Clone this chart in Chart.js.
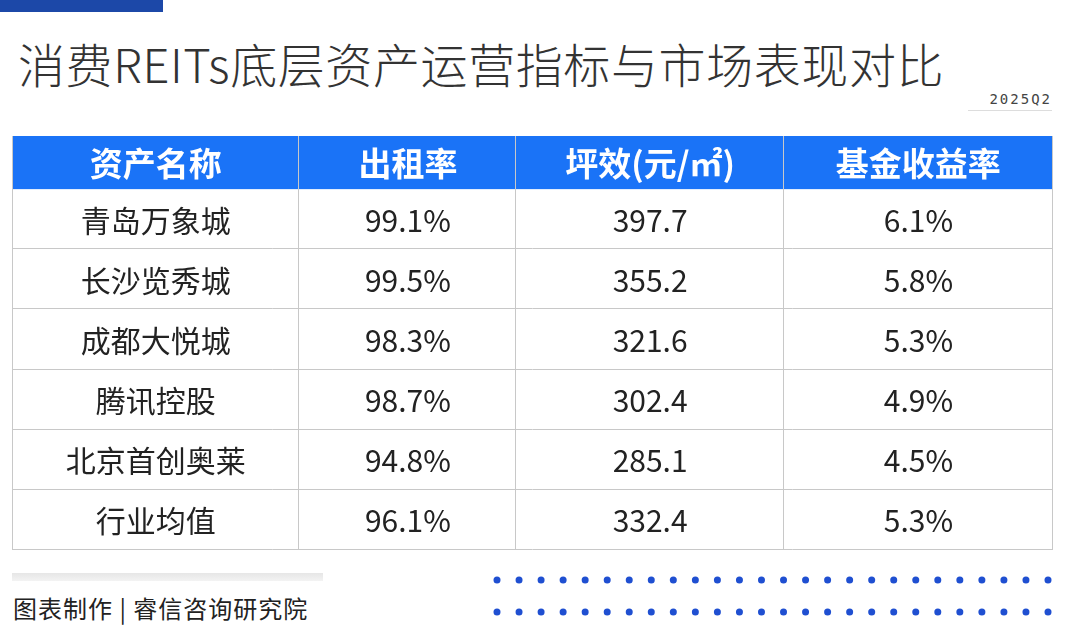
<!DOCTYPE html>
<html><head><meta charset="utf-8">
<script src="https://cdn.jsdelivr.net/npm/chart.js@4/dist/chart.umd.min.js"></script>
<style>
body{margin:0;width:1068px;height:631px;background:#fff;position:relative;overflow:hidden;font-family:"Noto Sans CJK SC","Noto Sans",sans-serif}
#topbar{position:absolute;left:0;top:0;width:163px;height:12px;background:#1c48a8}
#title{position:absolute;left:18px;top:28px;font-size:47px;color:#333;font-weight:300;letter-spacing:0.6px;white-space:nowrap}
#q{position:absolute;left:968px;top:91px;width:84px;text-align:right;font-size:14px;color:#444;letter-spacing:2px;border-bottom:1px solid #ddd;padding-bottom:3px;font-family:"DejaVu Sans Mono",monospace}
#wrap{position:absolute;left:12px;top:136px;width:1041px;height:414px}
#gray{position:absolute;left:12px;top:573px;width:311px;height:8px;background:linear-gradient(#e6e6e6,#f3f3f3)}
#src{position:absolute;left:13px;top:590px;font-size:24px;color:#222;letter-spacing:1px;white-space:nowrap}
#dots{position:absolute;left:490px;top:572px}
</style></head><body>
<div id="topbar"></div>
<div id="title">消费REITs底层资产运营指标与市场表现对比</div>
<div id="q">2025Q2</div>
<div id="wrap"><canvas id="tbl"></canvas></div>
<div id="gray"></div>
<div id="src">图表制作 | 睿信咨询研究院</div>
<canvas id="dots" width="570" height="50"></canvas>
<script>
// 表格数据
const headers = ['资产名称', '出租率', '坪效(元/㎡)', '基金收益率'];
const assets = ['青岛万象城', '长沙览秀城', '成都大悦城', '腾讯控股', '北京首创奥莱', '行业均值'];
const occupancy = ['99.1%', '99.5%', '98.3%', '98.7%', '94.8%', '96.1%'];
const salesPerSqm = ['397.7', '355.2', '321.6', '302.4', '285.1', '332.4'];
const fundYield = ['6.1%', '5.8%', '5.3%', '4.9%', '4.5%', '5.3%'];

const colEdges = [0, 287, 504, 771, 1040];
const headerH = 53 / 60;

const tablePlugin = {
    id: 'tablePlugin',
    afterDraw(chart) {
        const ctx = chart.ctx;
        const x = chart.scales.x, y = chart.scales.y;
        const cols = [assets, occupancy, salesPerSqm, fundYield];
        const left = x.getPixelForValue(0), right = x.getPixelForValue(1040);
        const top = y.getPixelForValue(-headerH), bottom = y.getPixelForValue(assets.length);
        ctx.save();
        // 表头
        ctx.fillStyle = '#1a73f7';
        ctx.fillRect(left, top, right - left, y.getPixelForValue(0) - top);
        ctx.textAlign = 'center';
        ctx.textBaseline = 'middle';
        ctx.fillStyle = '#fff';
        ctx.font = 'bold 33px "Noto Sans CJK SC"';
        headers.forEach((h, c) => {
            const cx = x.getPixelForValue((colEdges[c] + colEdges[c + 1]) / 2);
            ctx.fillText(h, cx, y.getPixelForValue(-headerH / 2) + 1);
        });
        // 单元格
        ctx.fillStyle = '#222';
        ctx.font = '30px "Noto Sans CJK SC"';
        cols.forEach((arr, c) => {
            const cx = x.getPixelForValue((colEdges[c] + colEdges[c + 1]) / 2);
            arr.forEach((v, r) => ctx.fillText(v, cx, y.getPixelForValue(r + 0.5) + 1));
        });
        // 网格线
        ctx.strokeStyle = '#c8c8c8';
        ctx.lineWidth = 1;
        ctx.beginPath();
        for (let r = 1; r <= assets.length; r++) {
            const py = Math.round(y.getPixelForValue(r)) - 0.5;
            ctx.moveTo(left, py); ctx.lineTo(right, py);
        }
        colEdges.forEach(e => {
            const px = Math.round(x.getPixelForValue(e)) + (e === 0 ? 0.5 : -0.5);
            ctx.moveTo(px, top); ctx.lineTo(px, bottom);
        });
        ctx.stroke();
        ctx.restore();
    }
};

new Chart(document.getElementById('tbl'), {
    type: 'scatter',
    data: { datasets: [{ data: [], pointRadius: 0 }] },
    options: {
        responsive: true,
        maintainAspectRatio: false,
        animation: false,
        layout: { padding: 0 },
        plugins: { legend: { display: false }, tooltip: { enabled: false } },
        scales: {
            x: { type: 'linear', min: 0, max: 1040, display: false },
            y: { type: 'linear', min: -headerH, max: assets.length, reverse: true, display: false }
        }
    },
    plugins: [tablePlugin]
});

// 装饰圆点
const d = document.getElementById('dots').getContext('2d');
d.fillStyle = '#1f4fd1';
for (let row = 0; row < 2; row++) {
    for (let i = 0; i < 26; i++) {
        d.beginPath();
        d.arc(7 + i * 22.04, 8 + row * 32, 3.5, 0, Math.PI * 2);
        d.fill();
    }
}
</script>
</body></html>
